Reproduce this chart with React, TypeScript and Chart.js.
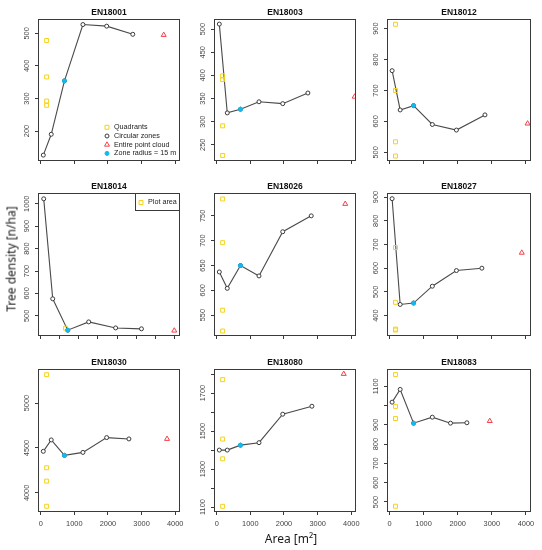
import { useEffect, useRef } from "react"
import { Chart, registerables, type ChartConfiguration, type Plugin } from "chart.js"
import { drawPoint } from "chart.js/helpers"

Chart.register(...registerables)

const FONT = "'Liberation Sans', Arial, Helvetica, sans-serif"
const LABEL_FONT = "'Noto Sans', 'Open Sans', sans-serif"

const plotIds = ["EN18001", "EN18003", "EN18012", "EN18014", "EN18026", "EN18027", "EN18030", "EN18080", "EN18083"]

// circular zones, area in m² (radius 5 ... 30 m)
const zoneArea = [
  [78, 314, 707, 1257, 1963, 2740],
  [78, 314, 707, 1257, 1963, 2710],
  [78, 314, 707, 1257, 1963, 2800],
  [78, 314, 707, 1257, 1963, 2640],
  [78, 314, 707, 1257, 1963, 2810],
  [78, 314, 707, 1257, 1963, 2710],
  [78, 314, 707, 1257, 1963, 2625],
  [78, 314, 707, 1257, 1963, 2830],
  [78, 314, 707, 1257, 1790, 2270],
]
const zoneDensity = [
  [126, 190, 354, 527, 522, 497],
  [511, 319, 327, 343, 339, 362],
  [764, 637, 651, 590, 572, 621],
  [1022, 576, 436, 473, 446, 442],
  [637, 604, 650, 629, 718, 750],
  [893, 447, 453, 524, 590, 600],
  [4463, 4590, 4418, 4451, 4616, 4601],
  [1400, 1400, 1426, 1439, 1589, 1631],
  [1018, 1084, 909, 940, 909, 911],
]
const zone15 = 2 // index of the 15 m zone

// quadrants (EN18014: one square plot)
const quadrantArea = [177, 177, 177, 650, 177, 177, 177, 177, 177]
const quadrantDensity = [
  [478, 366, 292, 279],
  [399, 391, 291, 227],
  [914, 700, 534, 488],
  [445],
  [784, 696, 560, 518],
  [687, 456, 343, 339],
  [5317, 4280, 4131, 3851],
  [1771, 1458, 1354, 1104],
  [1161, 996, 933, 478],
]

// entire point cloud
const cloudArea = [3660, 4100, 4050, 3500, 3820, 3880, 3760, 3775, 2940]
const cloudDensity = [495, 354, 593, 434, 774, 665, 4601, 1801, 920]

// axes
const areaTicks = [0, 1000, 2000, 3000, 4000]
const areaTicksFine = [0, 500, 1000, 1500, 2000, 2500, 3000, 3500]
const areaMin = [-80, -80, -72, -72, -80, -72, -80, -80, -72]
const areaMax = [4145, 4140, 4150, 3650, 4140, 4150, 4145, 4140, 4150]
const densityMin = [108, 215, 472, 410, 508, 314, 3787, 1074, 448]
const densityMax = [544, 522, 931, 1048, 796, 917, 5380, 1827, 1190]
const densityTicks = [
  [200, 300, 400, 500],
  [250, 300, 350, 400, 450, 500],
  [500, 600, 700, 800, 900],
  [500, 600, 700, 800, 900, 1000],
  [550, 600, 650, 700, 750],
  [400, 500, 600, 700, 800, 900],
  [4000, 4500, 5000],
  [1100, 1200, 1300, 1400, 1500, 1600, 1700, 1800],
  [500, 600, 700, 800, 900, 1000, 1100],
]
const densityUnlabelled = [[], [], [], [], [], [], [], [1200, 1400, 1600, 1800], [1000]]

const legendLabels = ["Quadrants", "Circular zones", "Entire point cloud", "Zone radius = 15 m"]
const plotAreaLabel = "Plot area"

// panel boxes in the page
const colLeft = [38, 214, 387]
const colRight = [180, 356, 531]
const rowTop = [19, 193, 369]
const rowBottom = [161, 336, 512]
const AXIS_W = 30
const TOP_PAD = 19
const RIGHT_PAD = 6
const AXIS_H = 20

const YELLOW = "#f6d11c"
const CYAN = "#12b8f0"
const RED = "#f2404a"
const INK = "#3a3a3a"

type Mark = { pointStyle: any; radius: number; stroke: string; fill: string }
const quadMark: Mark = { pointStyle: "rect", radius: 2.8, stroke: YELLOW, fill: "rgba(0,0,0,0)" }
const zoneMark: Mark = { pointStyle: "circle", radius: 2, stroke: INK, fill: "#ffffff" }
const cloudMark: Mark = { pointStyle: "triangle", radius: 2.9, stroke: RED, fill: "rgba(0,0,0,0)" }
const cyanMark: Mark = { pointStyle: "circle", radius: 2, stroke: CYAN, fill: CYAN }

function drawMark(ctx: CanvasRenderingContext2D, m: Mark, x: number, y: number) {
  ctx.save()
  ctx.strokeStyle = m.stroke
  ctx.fillStyle = m.fill
  ctx.lineWidth = 1
  drawPoint(ctx, { pointStyle: m.pointStyle, radius: m.radius, borderWidth: 1, rotation: 0 } as any, x, y)
  ctx.restore()
}

const panelFrame: Plugin<"scatter"> = {
  id: "panelFrame",
  afterDatasetsDraw(chart, _args, opts: any) {
    const { ctx, chartArea: a } = chart
    ctx.save()
    ctx.strokeStyle = INK
    ctx.lineWidth = 1
    ctx.strokeRect(a.left + 0.5, a.top + 0.5, a.right - a.left - 1, a.bottom - a.top - 1)

    ctx.fillStyle = "#111"
    ctx.font = `bold 8.5px ${FONT}`
    ctx.textAlign = "center"
    ctx.textBaseline = "middle"
    ctx.fillText(opts.title, (a.left + a.right) / 2, a.top - 6.5)

    ctx.font = `7.2px ${FONT}`
    ctx.textAlign = "left"
    ctx.fillStyle = "#222"
    if (opts.legend === "main") {
      const marks = [quadMark, zoneMark, cloudMark, cyanMark]
      legendLabels.forEach((label, k) => {
        const y = a.bottom - 33.7 + k * 8.7
        drawMark(ctx, marks[k], a.left + 69, y)
        ctx.fillText(label, a.left + 76, y)
      })
    } else if (opts.legend === "plot") {
      ctx.strokeStyle = INK
      ctx.strokeRect(a.right - 44.5, a.top + 0.5, 44, 17)
      drawMark(ctx, quadMark, a.right - 39, a.top + 9.5)
      ctx.fillText(plotAreaLabel, a.right - 32, a.top + 9.5)
    }
    ctx.restore()
  },
}

function textWidth(text: string, font: string) {
  const ctx = document.createElement("canvas").getContext("2d")!
  ctx.font = font
  return ctx.measureText(text).width
}

function Panel({ index }: { index: number }) {
  const canvasRef = useRef<HTMLCanvasElement>(null)
  const row = Math.floor(index / 3)
  const col = index % 3
  const boxW = colRight[col] - colLeft[col]
  const boxH = rowBottom[row] - rowTop[row]
  const width = boxW + AXIS_W + RIGHT_PAD
  const height = boxH + TOP_PAD + AXIS_H

  useEffect(() => {
    if (!canvasRef.current) return
    const ctx = canvasRef.current.getContext("2d")
    if (!ctx) return

    const hidden = densityUnlabelled[index]
    const shown = densityTicks[index].filter((v) => !hidden.includes(v)).map(String)
    const tickFont = `7.4px ${FONT}`
    const widest = Math.max(...shown.map((s) => textWidth(s, tickFont)))
    // rotated labels: centre them 11px left of the box
    const yPad = 8 - widest / 2
    const xTicks = index === 3 ? areaTicksFine : areaTicks

    const zones = zoneArea[index].map((x, k) => ({ x, y: zoneDensity[index][k] }))
    const quads = quadrantDensity[index].map((y) => ({ x: quadrantArea[index], y }))

    const config: ChartConfiguration<"scatter"> = {
      type: "scatter",
      data: {
        datasets: [
          {
            label: "Zone radius = 15 m",
            data: [zones[zone15]],
            pointStyle: "circle",
            pointRadius: cyanMark.radius,
            pointBackgroundColor: CYAN,
            pointBorderColor: CYAN,
            pointBorderWidth: 1,
          },
          {
            label: "Entire point cloud",
            data: [{ x: cloudArea[index], y: cloudDensity[index] }],
            pointStyle: "triangle",
            pointRadius: cloudMark.radius,
            pointBackgroundColor: "rgba(0,0,0,0)",
            pointBorderColor: RED,
            pointBorderWidth: 1,
          },
          {
            label: index === 3 ? "Plot area" : "Quadrants",
            data: quads,
            pointStyle: "rect",
            pointRadius: quadMark.radius,
            pointBackgroundColor: "rgba(0,0,0,0)",
            pointBorderColor: YELLOW,
            pointBorderWidth: 1,
          },
          {
            label: "Circular zones",
            data: zones,
            showLine: true,
            borderColor: "#4a4a4a",
            borderWidth: 1.1,
            pointStyle: "circle",
            pointRadius: zoneMark.radius,
            pointBackgroundColor: "#ffffff",
            pointBorderColor: INK,
            pointBorderWidth: 1,
          },
        ],
      },
      options: {
        responsive: false,
        animation: false,
        events: [],
        layout: { padding: { top: TOP_PAD, right: RIGHT_PAD, left: 0, bottom: 0 } },
        scales: {
          x: {
            type: "linear",
            min: areaMin[index],
            max: areaMax[index],
            afterBuildTicks: (s) => {
              s.ticks = xTicks.map((value) => ({ value }))
            },
            afterFit: (s) => {
              s.height = AXIS_H
              s.paddingLeft = 0
              s.paddingRight = 0
            },
            grid: { display: true, drawOnChartArea: false, drawTicks: true, tickLength: 3, color: INK, lineWidth: 1 },
            border: { display: false },
            ticks: {
              autoSkip: false,
              maxRotation: 0,
              padding: 5,
              color: "#444",
              font: { size: 7.4, family: FONT },
              callback: (v) => (row === 2 ? String(v) : ""),
            },
          },
          y: {
            type: "linear",
            min: densityMin[index],
            max: densityMax[index],
            afterBuildTicks: (s) => {
              s.ticks = densityTicks[index].map((value) => ({ value }))
            },
            afterFit: (s) => {
              s.width = AXIS_W
              s.paddingTop = 0
              s.paddingBottom = 0
            },
            grid: { display: true, drawOnChartArea: false, drawTicks: true, tickLength: 3, color: INK, lineWidth: 1 },
            border: { display: false },
            ticks: {
              autoSkip: false,
              minRotation: 90,
              maxRotation: 90,
              crossAlign: "center",
              padding: yPad,
              color: "#444",
              font: { size: 7.4, family: FONT },
              callback: (v) => (hidden.includes(Number(v)) ? "" : String(v)),
            },
          },
        },
        plugins: {
          legend: { display: false },
          tooltip: { enabled: false },
          // @ts-ignore custom plugin options
          panelFrame: { title: plotIds[index], legend: index === 0 ? "main" : index === 3 ? "plot" : null },
        },
      },
      plugins: [panelFrame],
    }

    const chart = new Chart(ctx, config)
    return () => chart.destroy()
  }, [index, row])

  return (
    <div
      style={{
        position: "absolute",
        left: colLeft[col] - AXIS_W,
        top: rowTop[row] - TOP_PAD,
        width,
        height,
      }}
    >
      <canvas ref={canvasRef} width={width} height={height} />
    </div>
  )
}

export default function App() {
  return (
    <div
      style={{
        position: "absolute",
        left: 0,
        top: 0,
        width: 542,
        height: 550,
        background: "#ffffff",
        overflow: "hidden",
      }}
    >
      {plotIds.map((id, i) => (
        <Panel key={id} index={i} />
      ))}
      <div
        style={{
          position: "absolute",
          left: 11,
          top: 259,
          transform: "translate(-50%, -50%) rotate(-90deg)",
          whiteSpace: "nowrap",
          fontFamily: LABEL_FONT,
          fontWeight: 400,
          fontSize: 12,
          color: "#1a1a1a",
        }}
      >
        Tree density [n/ha]
      </div>
      <div
        style={{
          position: "absolute",
          left: 291,
          top: 538,
          transform: "translate(-50%, -50%)",
          whiteSpace: "nowrap",
          fontFamily: LABEL_FONT,
          fontWeight: 400,
          fontSize: 12,
          color: "#1a1a1a",
        }}
      >
        Area [m²]
      </div>
    </div>
  )
}
